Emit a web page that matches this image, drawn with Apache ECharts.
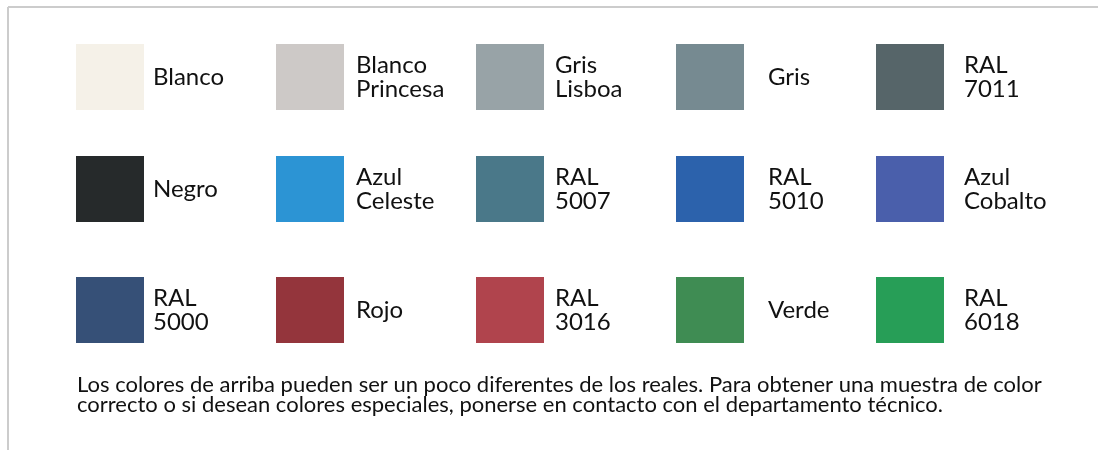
<!DOCTYPE html>
<html>
<head>
<meta charset="utf-8">
<script src="https://cdn.jsdelivr.net/npm/echarts@6/dist/echarts.min.js"></script>
<style>
  html, body { margin: 0; padding: 0; background: #fff; }
  #main { width: 1098px; height: 450px; }
</style>
</head>
<body>
<div id="main"></div>
<script>
// filas de muestras (nombre, color)
var row1Names = ['Blanco', 'Blanco\nPrincesa', 'Gris\nLisboa', 'Gris', 'RAL\n7011'];
var row1Colors = ['#f5f1e8', '#cdc9c7', '#98a3a7', '#768a91', '#566569'];
var row2Names = ['Negro', 'Azul\nCeleste', 'RAL\n5007', 'RAL\n5010', 'Azul\nCobalto'];
var row2Colors = ['#262a2b', '#2c94d4', '#4a7889', '#2c62ac', '#4a5fab'];
var row3Names = ['RAL\n5000', 'Rojo', 'RAL\n3016', 'Verde', 'RAL\n6018'];
var row3Colors = ['#365077', '#94353c', '#b0444d', '#3f8c53', '#279e57'];
var columns = [0, 1, 2, 3, 4];
var nota = 'Los colores de arriba pueden ser un poco diferentes de los reales. Para obtener una muestra de color\n' +
           'correcto o si desean colores especiales, ponerse en contacto con el departamento técnico.';

var rows = [
  { names: row1Names, colors: row1Colors },
  { names: row2Names, colors: row2Colors },
  { names: row3Names, colors: row3Colors }
];

// maquetación
var rowCenters = [77, 189, 310];
var labelGap = [9, 12, 11, 24, 20];

var grids = [], xAxes = [], yAxes = [], series = [];
rows.forEach(function (row, r) {
  grids.push({ left: 110, right: 188, top: rowCenters[r] - 10, height: 20 });
  xAxes.push({ type: 'value', gridIndex: r, min: 0, max: 4, show: false });
  yAxes.push({ type: 'value', gridIndex: r, min: -1, max: 1, show: false });
  series.push({
    type: 'scatter',
    xAxisIndex: r,
    yAxisIndex: r,
    symbol: 'rect',
    symbolSize: [68, 66],
    silent: true,
    data: columns.map(function (c) {
      return {
        value: [c, 0],
        itemStyle: { color: row.colors[c], opacity: 1 },
        label: {
          show: true,
          position: 'right',
          distance: labelGap[c],
          formatter: row.names[c],
          color: '#111',
          fontFamily: 'Lato',
          fontSize: 24,
          lineHeight: 24
        }
      };
    })
  });
});

var option = {
  animation: false,
  backgroundColor: '#fff',
  title: {
    text: nota,
    left: 77,
    top: 375,
    padding: 0,
    textStyle: {
      fontFamily: 'Lato',
      fontSize: 22,
      fontWeight: 'normal',
      color: '#111',
      lineHeight: 20
    }
  },
  grid: grids,
  xAxis: xAxes,
  yAxis: yAxes,
  series: series,
  graphic: [
    { type: 'line', shape: { x1: 8, y1: 7, x2: 1098, y2: 7 }, style: { stroke: '#cccccc', lineWidth: 2 } },
    { type: 'line', shape: { x1: 8, y1: 7, x2: 8, y2: 450 }, style: { stroke: '#cccccc', lineWidth: 2 } }
  ]
};

var myChart = echarts.init(document.getElementById('main'));
myChart.setOption(option);
</script>
</body>
</html>
